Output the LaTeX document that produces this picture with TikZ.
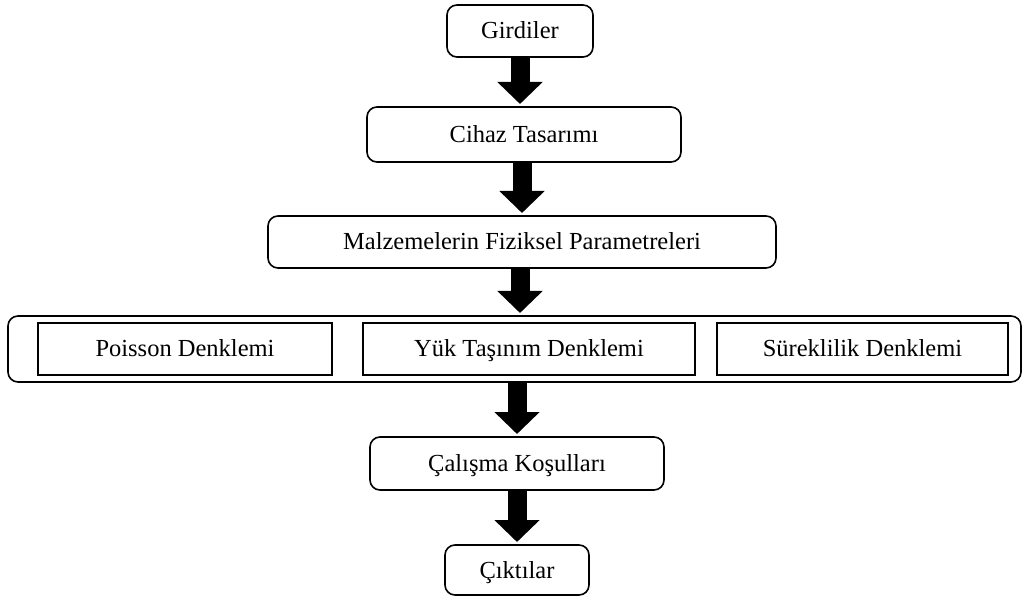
\documentclass[tikz,border=0pt]{standalone}
\usepackage{fontspec}
\setmainfont{Liberation Serif}
\usetikzlibrary{positioning,arrows.meta}

\begin{document}
\begin{tikzpicture}[x=1pt,y=1pt,node distance=50pt,
    every node/.style={font=\fontsize{24.5}{28}\selectfont,outer sep=0pt,text height=17pt,text depth=1pt},
    box/.style={draw,rounded corners=10pt,line width=1.6pt,minimum height=52pt,inner sep=0pt},
    eqbox/.style={draw,line width=2.2pt,minimum height=52pt,inner sep=0pt},
    blockarrow/.style={line width=19pt,-{Triangle[length=22pt,width=44pt]},shorten >=3pt}]
    \useasboundingbox (0,0) rectangle (1025,-601);
    \node[box] (girdiler) [minimum width=146pt] at (520,-31) {Girdiler};
    \node[box] (cihaz) [minimum width=314pt,minimum height=55pt,below=50pt of girdiler,xshift=4pt] {Cihaz Tasarımı};
    \node[box] (malzeme) [minimum width=508pt,below=54pt of cihaz,xshift=-2pt] {Malzemelerin Fiziksel Parametreleri};
    \node[box] (denklem) [minimum width=1013pt,minimum height=66pt,below=48pt of malzeme,xshift=-7.5pt] {};
    \node[eqbox] (yuk) [minimum width=332pt,xshift=14.5pt] at (denklem.center) {Yük Taşınım Denklemi};
    \node[eqbox] (poisson) [minimum width=294pt,left=31pt of yuk] {Poisson Denklemi};
    \node[eqbox] (sureklilik) [minimum width=291pt,right=22pt of yuk] {Süreklilik Denklemi};
    \node[box] (calisma) [minimum width=294pt,minimum height=53pt,below=55pt of denklem,xshift=2.5pt] {Çalışma Koşulları};
    \node[box] (ciktilar) [minimum width=144pt,minimum height=50pt,below=55pt of calisma] {Çıktılar};
    \draw[blockarrow] (girdiler.south) -- (girdiler.south |- cihaz.north);
    \draw[blockarrow] (malzeme.north |- cihaz.south) -- (malzeme.north);
    \draw[blockarrow] ([xshift=-2pt]malzeme.south) -- ([xshift=-2pt]malzeme.south |- denklem.north);
    \draw[blockarrow] (calisma.north |- denklem.south) -- (calisma.north);
    \draw[blockarrow] (calisma.south) -- (ciktilar.north);
\end{tikzpicture}
\end{document}
